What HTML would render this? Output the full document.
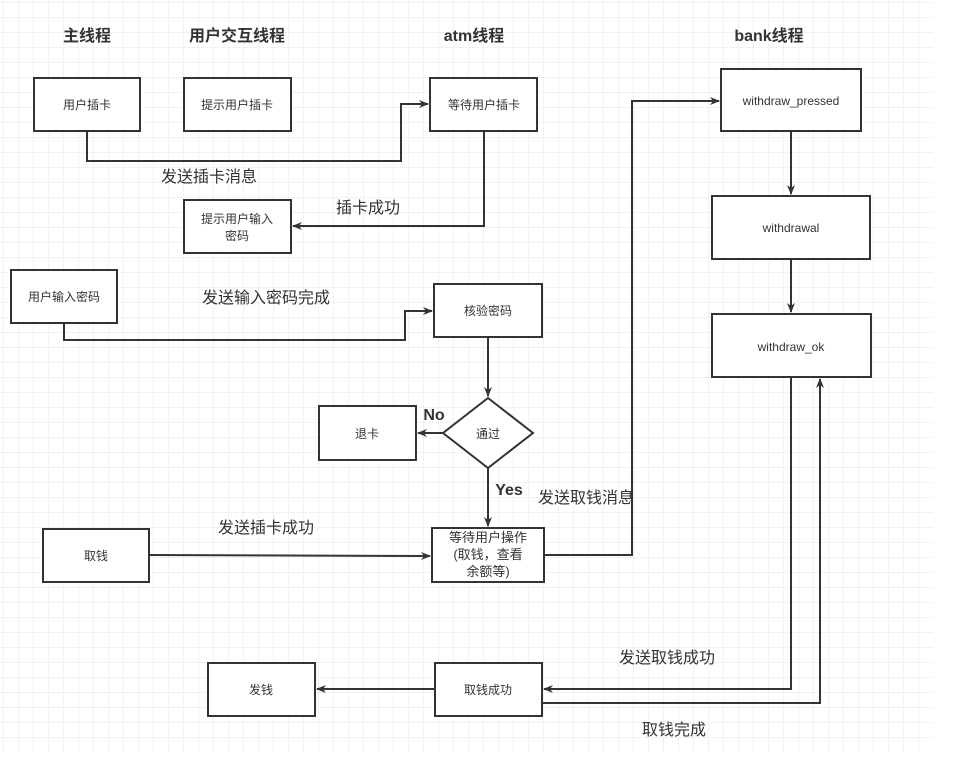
<!DOCTYPE html>
<html><head><meta charset="utf-8"><style>
html,body{margin:0;padding:0;background:#fff;}
svg{display:block;}
text{font-family:"Liberation Sans","Noto Sans CJK SC",sans-serif;fill:#333;}
</style></head><body>
<svg width="954" height="757" viewBox="0 0 954 757" xmlns="http://www.w3.org/2000/svg">
<defs>
<pattern id="g" x="3" y="2" width="15" height="15" patternUnits="userSpaceOnUse">
<path d="M0 0H15M0 0V15" stroke="#e6e6e6" stroke-width="1" fill="none"/>
</pattern>
<marker id="a" markerWidth="10" markerHeight="10" refX="9" refY="5" orient="auto" markerUnits="userSpaceOnUse">
<path d="M0 1L10 5L0 9L3 5Z" fill="#333"/>
</marker>
</defs>
<rect x="0" y="0" width="933" height="752" fill="url(#g)"/>
<g fill="#fff" stroke="#333" stroke-width="2">
<rect x="34" y="78" width="106" height="53"/>
<rect x="184" y="78" width="107" height="53"/>
<rect x="430" y="78" width="107" height="53"/>
<rect x="721" y="69" width="140" height="62"/>
<rect x="184" y="200" width="107" height="53"/>
<rect x="712" y="196" width="158" height="63"/>
<rect x="11" y="270" width="106" height="53"/>
<rect x="434" y="284" width="108" height="53"/>
<rect x="712" y="314" width="159" height="63"/>
<rect x="319" y="406" width="97" height="54"/>
<polygon points="488,398 533,433 488,468 443,433"/>
<rect x="432" y="528" width="112" height="54"/>
<rect x="43" y="529" width="106" height="53"/>
<rect x="208" y="663" width="107" height="53"/>
<rect x="435" y="663" width="107" height="53"/>
</g>
<g fill="none" stroke="#333" stroke-width="2">
<path d="M87 131V161H401V104H428" marker-end="url(#a)"/>
<path d="M484 131V226H293" marker-end="url(#a)"/>
<path d="M64 323V340H405V311H432" marker-end="url(#a)"/>
<path d="M488 337V396" marker-end="url(#a)"/>
<path d="M443 433H418" marker-end="url(#a)"/>
<path d="M488 468V526" marker-end="url(#a)"/>
<path d="M149 555L430 556" marker-end="url(#a)"/>
<path d="M544 555H632V101H719" marker-end="url(#a)"/>
<path d="M791 131V194" marker-end="url(#a)"/>
<path d="M791 259V312" marker-end="url(#a)"/>
<path d="M791 377V689H544" marker-end="url(#a)"/>
<path d="M542 703H820V379" marker-end="url(#a)"/>
<path d="M435 689H317" marker-end="url(#a)"/>
</g>
<g font-size="16" font-weight="bold" text-anchor="middle">
<text x="87" y="41">主线程</text>
<text x="237" y="41">用户交互线程</text>
<text x="474" y="41">atm线程</text>
<text x="769" y="41">bank线程</text>
<text x="434" y="420">No</text>
<text x="509" y="495">Yes</text>
</g>
<g font-size="16" text-anchor="middle">
<text x="209" y="182">发送插卡消息</text>
<text x="368" y="213">插卡成功</text>
<text x="266" y="303">发送输入密码完成</text>
<text x="586" y="503">发送取钱消息</text>
<text x="266" y="533">发送插卡成功</text>
<text x="667" y="663">发送取钱成功</text>
<text x="674" y="735">取钱完成</text>
</g>
<g font-size="12" text-anchor="middle">
<text x="87" y="109">用户插卡</text>
<text x="237" y="109">提示用户插卡</text>
<text x="484" y="109">等待用户插卡</text>
<text x="791" y="105">withdraw_pressed</text>
<text x="237" y="223">提示用户输入</text>
<text x="237" y="240">密码</text>
<text x="791" y="232">withdrawal</text>
<text x="64" y="301">用户输入密码</text>
<text x="488" y="315">核验密码</text>
<text x="791" y="351">withdraw_ok</text>
<text x="367" y="438">退卡</text>
<text x="488" y="438">通过</text>
<text x="488" y="542" font-size="13">等待用户操作</text>
<text x="488" y="559" font-size="13">(取钱，查看</text>
<text x="488" y="576" font-size="13">余额等)</text>
<text x="96" y="560">取钱</text>
<text x="261" y="694">发钱</text>
<text x="488" y="694">取钱成功</text>
</g>
</svg>
</body></html>
